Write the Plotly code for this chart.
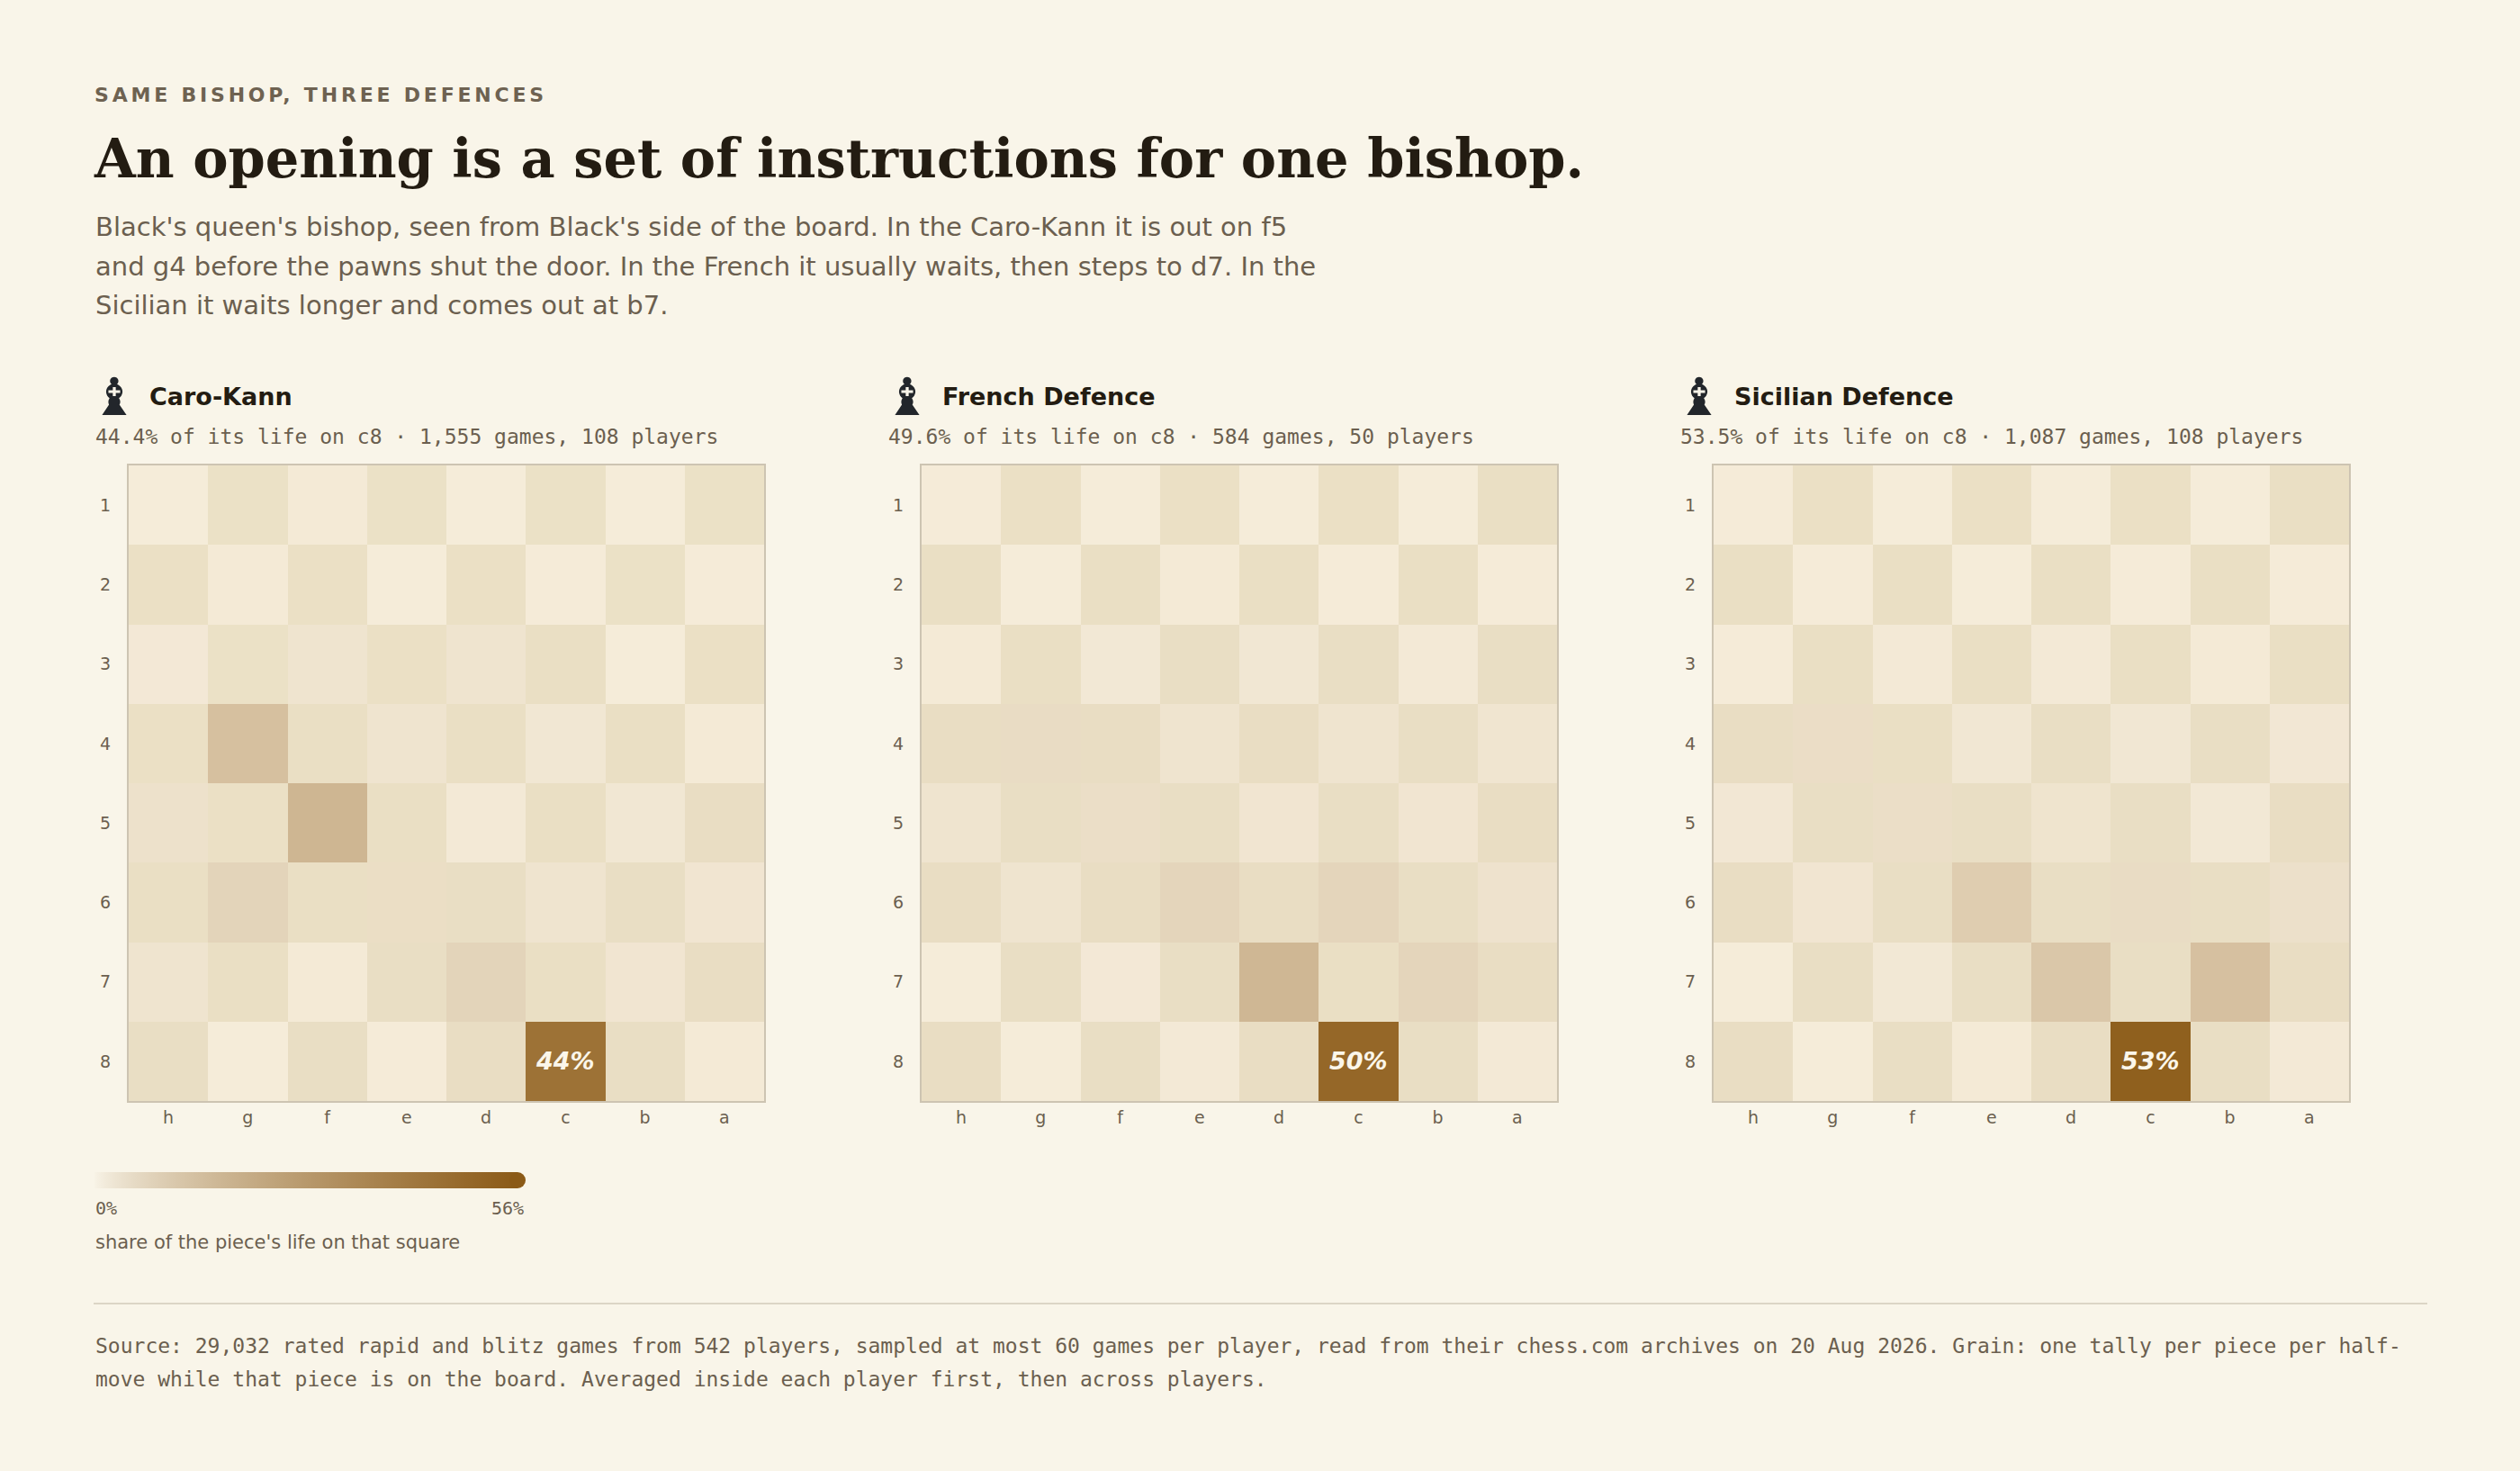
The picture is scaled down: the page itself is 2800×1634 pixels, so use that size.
import plotly.graph_objects as go

# page size in px
W, H = 2800, 1634

openings = ["Caro-Kann", "French Defence", "Sicilian Defence"]
games = [1555, 584, 1087]
players = [108, 50, 108]
files = ["h", "g", "f", "e", "d", "c", "b", "a"]
ranks = ["1", "2", "3", "4", "5", "6", "7", "8"]

# share of the bishop's life on each square, % (rows = rank 1..8, cols = h..a)
caro_kann = [
    [0.1, 0.1, 0.3, 0.1, 0.1, 0.1, 0.1, 0.1],
    [0.2, 0.3, 0.2, 0.1, 0.2, 0.2, 0.1, 0.2],
    [0.5, 0.1, 1.3, 0.2, 1.3, 0.3, 0.1, 0.2],
    [0.2, 11.6, 0.3, 1.3, 0.3, 0.8, 0.3, 0.3],
    [1.9, 0.2, 14.8, 0.3, 0.4, 0.3, 0.8, 0.5],
    [0.3, 5.3, 0.3, 2.9, 0.4, 1.3, 0.4, 1.0],
    [1.3, 0.3, 0.3, 0.4, 5.3, 0.3, 1.0, 0.5],
    [0.4, 0.1, 0.4, 0.2, 0.5, 44.4, 0.4, 0.3],
]
french = [
    [0.2, 0.2, 0.1, 0.2, 0.1, 0.2, 0.1, 0.3],
    [0.3, 0.1, 0.3, 0.3, 0.3, 0.2, 0.3, 0.2],
    [0.3, 0.3, 0.6, 0.4, 0.8, 0.4, 0.4, 0.4],
    [0.5, 3.3, 0.5, 1.3, 0.5, 1.3, 0.4, 1.2],
    [1.3, 0.4, 2.5, 0.4, 1.0, 0.4, 1.0, 0.5],
    [0.5, 1.3, 0.5, 5.0, 0.5, 5.0, 0.4, 1.6],
    [0.1, 0.4, 0.5, 0.4, 14.4, 0.3, 5.0, 0.5],
    [0.5, 0.1, 0.4, 0.4, 0.5, 49.6, 0.4, 0.4],
]
sicilian = [
    [0.2, 0.2, 0.1, 0.2, 0.1, 0.2, 0.1, 0.3],
    [0.3, 0.2, 0.3, 0.1, 0.3, 0.2, 0.3, 0.2],
    [0.2, 0.3, 0.4, 0.3, 0.4, 0.3, 0.3, 0.3],
    [0.5, 2.7, 0.3, 0.8, 0.4, 0.8, 0.4, 0.7],
    [0.7, 0.4, 2.5, 0.4, 1.4, 0.4, 0.6, 0.5],
    [0.5, 1.0, 0.4, 7.5, 0.4, 3.2, 0.4, 2.2],
    [0.1, 0.4, 0.6, 0.4, 9.0, 0.4, 11.3, 0.5],
    [0.5, 0.1, 0.4, 0.3, 0.5, 53.46, 0.4, 0.4],
]
boards = [caro_kann, french, sicilian]
scale_max = 56

body_lines = [
    "Black's queen's bishop, seen from Black's side of the board. In the Caro-Kann it is out on f5",
    "and g4 before the pawns shut the door. In the French it usually waits, then steps to d7. In the",
    "Sicilian it waits longer and comes out at b7.",
]
footer_lines = [
    "Source: 29,032 rated rapid and blitz games from 542 players, sampled at most 60 games per player, read from their chess.com archives on 20 Aug 2026. Grain: one tally per piece per half-",
    "move while that piece is on the board. Averaged inside each player first, then across players.",
]

BG = "#f9f5e9"
INK = "#231c12"
MUTED = "#6b5f4f"
BROWN = (139, 90, 23)
SANS = "DejaVu Sans"
MONO = "DejaVu Sans Mono"
SERIF = "DejaVu Serif"


def px(x):
    return x / W


def py(y):
    return 1 - y / H


# brown laid over the square with alpha growing as value^0.75
stops = [0, 0.005, 0.01, 0.02, 0.04, 0.07, 0.1, 0.15, 0.2, 0.3, 0.4, 0.5, 0.6, 0.7, 0.8, 0.9, 1]
heat_scale = [[s, "rgba(%d,%d,%d,%.4f)" % (*BROWN, s ** 0.75)] for s in stops]
square_scale = [[0, "#ece2c8"], [1, "#f6eddb"]]

# light squares: file + rank odd
parity = [[(8 - j + int(r)) % 2 for j in range(8)] for r in ranks]

board_x = [143, 1024, 1904]
board_top, board_size = 517, 706
bar_x0, bar_x1, bar_y, bar_h = 104, 584, 1302, 18

fig = go.Figure()
annotations = []
for i, name in enumerate(openings):
    xa = "x" if i == 0 else "x%d" % (i + 1)
    ya = "y" if i == 0 else "y%d" % (i + 1)
    fig.add_trace(go.Heatmap(x=files, y=ranks, z=parity, colorscale=square_scale, zmin=0, zmax=1,
                             showscale=False, hoverinfo="skip", xaxis=xa, yaxis=ya))
    fig.add_trace(go.Heatmap(
        x=files, y=ranks, z=boards[i], colorscale=heat_scale, zmin=0, zmax=scale_max,
        showscale=(i == 0), xaxis=xa, yaxis=ya,
        colorbar=dict(orientation="h", x=px(bar_x0), xanchor="left", y=py(bar_y), yanchor="top",
                      len=(bar_x1 - bar_x0 - bar_h / 2) / W, lenmode="fraction", thickness=bar_h,
                      thicknessmode="pixels", outlinewidth=0, showticklabels=False, ticks="",
                      xpad=0, ypad=0, bgcolor="rgba(0,0,0,0)"),
    ))
    x0 = board_x[i]
    axis_font = dict(family=SANS, size=19, color=MUTED)
    fig.layout[("xaxis" if i == 0 else "xaxis%d" % (i + 1))] = dict(
        domain=[px(x0), px(x0 + board_size)], anchor=ya, type="category",
        categoryorder="array", categoryarray=files, range=[-0.5, 7.5], showgrid=False,
        zeroline=False, ticks="", ticklen=0, tickfont=axis_font, showline=True,
        linecolor="#cdc4b2", linewidth=2, mirror=True, fixedrange=True, ticklabelstandoff=0)
    fig.layout[("yaxis" if i == 0 else "yaxis%d" % (i + 1))] = dict(
        domain=[py(board_top + board_size), py(board_top)], anchor=xa, type="category",
        categoryorder="array", categoryarray=ranks, range=[7.5, -0.5], showgrid=False,
        zeroline=False, ticks="", ticklen=0, tickfont=axis_font, showline=True,
        linecolor="#cdc4b2", linewidth=2, mirror=True, fixedrange=True, ticklabelstandoff=14)

    # peak square label (c8)
    c8 = boards[i][7][5]
    annotations.append(dict(x=files.index("c"), y=ranks.index("8"), xref=xa, yref=ya,
                            text="%.0f%%" % c8, showarrow=False,
                            font=dict(family=SANS, size=27, color="#fbf6ea", weight="bold", style="italic")))
    # board header
    annotations.append(dict(x=px(x0 - 16), y=py(441), xref="paper", yref="paper", text="\u265d",
                            showarrow=False, xanchor="center", yanchor="middle",
                            font=dict(family=SANS, size=58, color="#22262b")))
    annotations.append(dict(x=px(x0 + 21), y=py(440), xref="paper", yref="paper", text="<b>%s</b>" % name,
                            showarrow=False, xanchor="left", yanchor="middle",
                            font=dict(family=SANS, size=27, color=INK)))
    sub = "%.1f%% of its life on c8 \u00b7 %s games, %d players" % (c8, format(games[i], ","), players[i])
    annotations.append(dict(x=px(x0 - 39), y=py(485), xref="paper", yref="paper", text=sub,
                            showarrow=False, xanchor="left", yanchor="middle",
                            font=dict(family=MONO, size=23, color=MUTED)))

# header
annotations.append(dict(x=px(103), y=py(106), xref="paper", yref="paper",
                        text='<span style="letter-spacing:3.8px">SAME BISHOP, THREE DEFENCES</span>',
                        showarrow=False, xanchor="left", yanchor="middle",
                        font=dict(family=SANS, size=22, color="#6e6251", weight="bold")))
annotations.append(dict(x=px(102), y=py(176), xref="paper", yref="paper",
                        text="An opening is a set of instructions for one bishop.",
                        showarrow=False, xanchor="left", yanchor="middle",
                        font=dict(family=SERIF, size=59, color=INK, weight="bold")))
for k, line in enumerate(body_lines):
    annotations.append(dict(x=px(104), y=py(252 + 43.5 * k), xref="paper", yref="paper", text=line,
                            showarrow=False, xanchor="left", yanchor="middle",
                            font=dict(family=SANS, size=29, color=MUTED)))

# legend labels
annotations.append(dict(x=px(bar_x0), y=py(1342), xref="paper", yref="paper", text="0%", showarrow=False,
                        xanchor="left", yanchor="middle", font=dict(family=MONO, size=20, color=MUTED)))
annotations.append(dict(x=px(bar_x1), y=py(1342), xref="paper", yref="paper", text="%d%%" % scale_max,
                        showarrow=False, xanchor="right", yanchor="middle",
                        font=dict(family=MONO, size=20, color=MUTED)))
annotations.append(dict(x=px(bar_x0), y=py(1380), xref="paper", yref="paper",
                        text="share of the piece's life on that square", showarrow=False,
                        xanchor="left", yanchor="middle", font=dict(family=SANS, size=21, color=MUTED)))

# footer
for k, line in enumerate(footer_lines):
    annotations.append(dict(x=px(104), y=py(1495 + 37 * k), xref="paper", yref="paper", text=line,
                            showarrow=False, xanchor="left", yanchor="middle",
                            font=dict(family=MONO, size=23, color=MUTED)))

shapes = [
    # rounded cap on the dark end of the scale bar
    dict(type="circle", xref="paper", yref="paper", layer="below",
         x0=px(bar_x1 - bar_h), x1=px(bar_x1), y0=py(bar_y + bar_h), y1=py(bar_y),
         fillcolor="rgb(%d,%d,%d)" % BROWN, line=dict(width=0)),
    dict(type="line", xref="paper", yref="paper", x0=px(104), x1=px(2697), y0=py(1448), y1=py(1448),
         line=dict(color="#dcd5c6", width=2)),
]

fig.update_layout(
    width=W, height=H, margin=dict(l=0, r=0, t=0, b=0),
    paper_bgcolor=BG, plot_bgcolor=BG, showlegend=False,
    annotations=annotations, shapes=shapes,
)

fig.write_html("out.html", config={"displayModeBar": False},
               post_script="document.body.style.margin='0';")
